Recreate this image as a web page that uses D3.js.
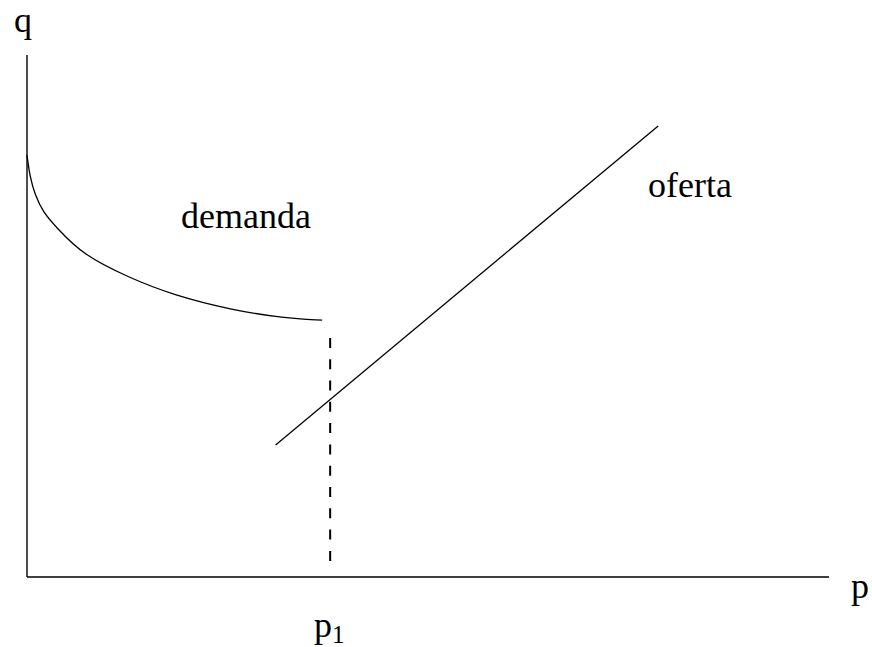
<!DOCTYPE html>
<html lang="es">
<head>
<meta charset="UTF-8">
<title>demanda y oferta</title>
<script src="https://d3js.org/d3.v7.min.js"></script>
<style>
  body { margin: 0; background: #fff; }
</style>
</head>
<body>
<script>
// valores (unidades 0..100 en ambos ejes)
const demandaX = [0, 0.37, 1.0, 2.0, 3.7, 7.0, 12.5, 18.2, 25.7, 32.0, 36.8];
const demandaY = [80.8, 76.6, 73.2, 69.9, 66.9, 61.7, 57.5, 54.0, 51.1, 49.6, 49.2];
const ofertaX = [31.0, 78.7];
const ofertaY = [25.3, 86.4];
const p1 = 37.8;
const p1Tramo = [3, 45.8];

const w = 872, h = 647;
const svg = d3.select("body").append("svg")
  .attr("width", w).attr("height", h);

const x = d3.scaleLinear().domain([0, 100]).range([27, 829]);
const y = d3.scaleLinear().domain([0, 100]).range([577, 55]);

// ejes
svg.append("line")
  .attr("x1", x(0)).attr("x2", x(0))
  .attr("y1", y(0)).attr("y2", y(100))
  .attr("stroke", "#000").attr("stroke-width", 1.4);
svg.append("line")
  .attr("x1", x(0)).attr("x2", x(100))
  .attr("y1", y(0)).attr("y2", y(0))
  .attr("stroke", "#000").attr("stroke-width", 1.4);

// demanda
const dem = demandaX.map((d, i) => [d, demandaY[i]]);
svg.append("path")
  .datum(dem)
  .attr("fill", "none").attr("stroke", "#000").attr("stroke-width", 1.3)
  .attr("d", d3.line().x(d => x(d[0])).y(d => y(d[1])).curve(d3.curveBasis));

// oferta
const of = ofertaX.map((d, i) => [d, ofertaY[i]]);
svg.append("path")
  .datum(of)
  .attr("fill", "none").attr("stroke", "#000").attr("stroke-width", 1.3)
  .attr("d", d3.line().x(d => x(d[0])).y(d => y(d[1])));

// p1 punteada
svg.append("line")
  .attr("x1", x(p1)).attr("x2", x(p1))
  .attr("y1", y(p1Tramo[1])).attr("y2", y(p1Tramo[0]))
  .attr("stroke", "#000").attr("stroke-width", 2)
  .attr("stroke-dasharray", "10,11.3");

// textos
const fs = 36;
function label(px, py, s) {
  return svg.append("text").attr("x", px).attr("y", py)
    .style("font-family", "Liberation Serif").style("font-size", fs + "px")
    .attr("fill", "#000").text(s);
}
label(14, 32, "q");
label(851, 598, "p");
label(181, 228, "demanda");
label(648, 197, "oferta");
const t = label(314, 637, "p");
t.append("tspan").style("font-size", "25px").attr("dy", 6).text("1");
</script>
</body>
</html>
